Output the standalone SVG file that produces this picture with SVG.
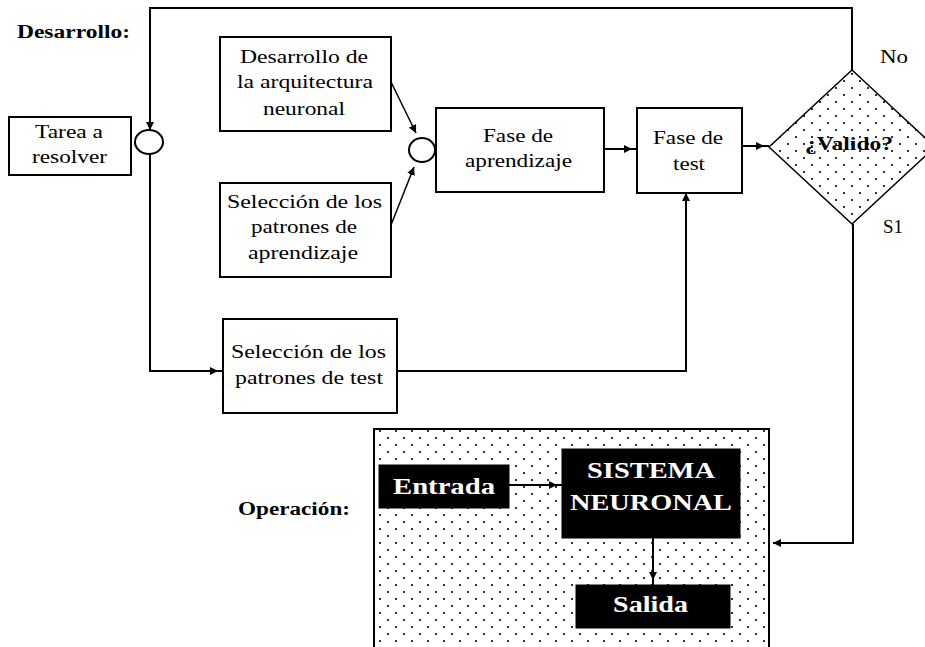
<svg xmlns="http://www.w3.org/2000/svg" width="925" height="647" viewBox="0 0 925 647">
<defs>
<style>
.box{fill:#fff;stroke:#000;stroke-width:2}
.blk{fill:#000;stroke:#000;stroke-width:1}
.t{font-family:"Liberation Serif",serif;font-size:18px;fill:#000}
.b{font-family:"Liberation Serif",serif;font-weight:bold;fill:#000}
.w{font-family:"Liberation Serif",serif;font-weight:bold;fill:#fff}
.ln{fill:none;stroke:#000;stroke-width:2}
.thin{fill:none;stroke:#000;stroke-width:1.5}
</style>
<pattern id="dots" width="16" height="14" patternUnits="userSpaceOnUse">
<rect width="16" height="14" fill="#fff"/>
<rect x="3" y="3" width="2" height="2" fill="#333"/>
<rect x="11" y="10" width="2" height="2" fill="#333"/>
</pattern>
<marker id="ab" viewBox="0 0 14 8" markerWidth="14" markerHeight="8" refX="13" refY="4" orient="auto" markerUnits="userSpaceOnUse">
<path d="M0,0 L8,4 L0,8 z" fill="#000"/>
</marker>
<marker id="at" viewBox="0 0 8 8" markerWidth="8" markerHeight="8" refX="8" refY="4" orient="auto" markerUnits="userSpaceOnUse">
<path d="M0,0 L8,4 L0,8 z" fill="#000"/>
</marker>
</defs>
<rect width="925" height="647" fill="#fff"/>

<text class="b" x="17" y="38" font-size="18" textLength="113" lengthAdjust="spacingAndGlyphs">Desarrollo:</text>
<text class="b" x="238" y="515" font-size="18" textLength="112" lengthAdjust="spacingAndGlyphs">Operación:</text>

<g id="operacion-panel">
<rect x="374" y="429" width="395" height="230" fill="url(#dots)" stroke="#000" stroke-width="2"/>
</g>

<g id="connectors">
<path class="ln" d="M852,70 V8 H150 V130" marker-end="url(#at)"/>
<path class="ln" d="M150,154 V371 H223" marker-end="url(#ab)"/>
<line class="thin" x1="391" y1="82" x2="416" y2="133" marker-end="url(#at)"/>
<line class="thin" x1="391" y1="225" x2="414" y2="167" marker-end="url(#at)"/>
<path class="ln" d="M604,149 H637" marker-end="url(#ab)"/>
<path class="ln" d="M742,146 H769" marker-end="url(#ab)"/>
<path class="ln" d="M397,371 H686 V193" marker-end="url(#at)"/>
<path class="ln" d="M853,224 V543 H773" marker-end="url(#at)"/>
<path class="ln" d="M509,485 H562" marker-end="url(#ab)"/>
<path class="ln" d="M653,538 V585" marker-end="url(#ab)"/>
</g>

<g id="tarea">
<rect class="box" x="9" y="117" width="122" height="58"/>
<text class="t" x="35" y="138" textLength="68" lengthAdjust="spacingAndGlyphs">Tarea a</text>
<text class="t" x="32" y="163" textLength="75" lengthAdjust="spacingAndGlyphs">resolver</text>
</g>

<g id="union1">
<ellipse cx="149" cy="142" rx="14" ry="12" fill="#fff" stroke="#000" stroke-width="2"/>
</g>

<g id="desarrollo-arquitectura">
<rect class="box" x="220" y="37" width="171" height="94"/>
<text class="t" x="240" y="63" textLength="128" lengthAdjust="spacingAndGlyphs">Desarrollo de</text>
<text class="t" x="237" y="88" textLength="136" lengthAdjust="spacingAndGlyphs">la arquitectura</text>
<text class="t" x="263" y="115" textLength="82" lengthAdjust="spacingAndGlyphs">neuronal</text>
</g>

<g id="seleccion-aprendizaje">
<rect class="box" x="220" y="183" width="171" height="94"/>
<text class="t" x="227" y="208" textLength="155" lengthAdjust="spacingAndGlyphs">Selección de los</text>
<text class="t" x="251" y="233" textLength="106" lengthAdjust="spacingAndGlyphs">patrones de</text>
<text class="t" x="248" y="259" textLength="110" lengthAdjust="spacingAndGlyphs">aprendizaje</text>
</g>

<g id="union2">
<ellipse cx="422" cy="150" rx="13" ry="12" fill="#fff" stroke="#000" stroke-width="2"/>
</g>

<g id="fase-aprendizaje">
<rect class="box" x="436" y="108" width="168" height="84"/>
<text class="t" x="483" y="142" textLength="70" lengthAdjust="spacingAndGlyphs">Fase de</text>
<text class="t" x="465" y="167" textLength="107" lengthAdjust="spacingAndGlyphs">aprendizaje</text>
</g>

<g id="fase-test">
<rect class="box" x="637" y="108" width="105" height="85"/>
<text class="t" x="653" y="144" textLength="70" lengthAdjust="spacingAndGlyphs">Fase de</text>
<text class="t" x="673" y="170" textLength="32" lengthAdjust="spacingAndGlyphs">test</text>
</g>

<g id="valido">
<polygon points="852,70 935,147 852,224 769,147" fill="url(#dots)" stroke="#000" stroke-width="1.5"/>
<text class="b" x="805" y="150" font-size="18" textLength="88" lengthAdjust="spacingAndGlyphs">¿Valido?</text>
<text class="t" x="880" y="63" textLength="28" lengthAdjust="spacingAndGlyphs">No</text>
<text class="t" x="883" y="233" textLength="20" lengthAdjust="spacingAndGlyphs">S1</text>
</g>

<g id="seleccion-test">
<rect class="box" x="223" y="319" width="174" height="94"/>
<text class="t" x="231" y="358" textLength="155" lengthAdjust="spacingAndGlyphs">Selección de los</text>
<text class="t" x="235" y="384" textLength="148" lengthAdjust="spacingAndGlyphs">patrones de  test</text>
</g>

<g id="entrada">
<rect class="blk" x="379" y="465" width="130" height="43"/>
<text class="w" x="393" y="494" font-size="24" textLength="102" lengthAdjust="spacingAndGlyphs">Entrada</text>
</g>

<g id="sistema-neuronal">
<rect class="blk" x="562" y="449" width="178" height="89"/>
<text class="w" x="587" y="478" font-size="23" textLength="128" lengthAdjust="spacingAndGlyphs">SISTEMA</text>
<text class="w" x="570" y="510" font-size="23" textLength="162" lengthAdjust="spacingAndGlyphs">NEURONAL</text>
</g>

<g id="salida">
<rect class="blk" x="576" y="585" width="154" height="43"/>
<text class="w" x="613" y="612" font-size="23" textLength="75" lengthAdjust="spacingAndGlyphs">Salida</text>
</g>
</svg>
